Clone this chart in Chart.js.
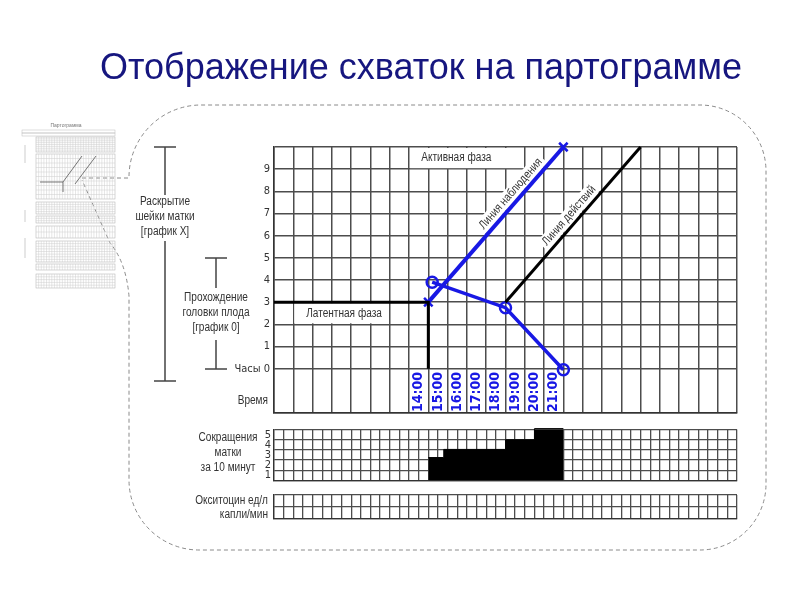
<!DOCTYPE html>
<html>
<head>
<meta charset="utf-8">
<script src="https://cdn.jsdelivr.net/npm/chart.js@4.4.1/dist/chart.umd.min.js"></script>
<style>
    body { margin: 0; background: #fff; }
    #wrap { position: relative; width: 800px; height: 600px; }
    #wrap canvas { position: absolute; }
</style>
</head>
<body>
<div id="wrap">
    <canvas id="mainChart" width="800" height="600" style="left:0;top:0"></canvas>
    <canvas id="contrChart" width="510" height="70" style="left:240px;top:420px"></canvas>
    <canvas id="oxyChart" width="490" height="40" style="left:260px;top:488px"></canvas>
</div>
<script>
    // Data: x = hours from start of the chart, y = cm of dilatation / descent
    const latentX = [0, 8, 8];
    const latentY = [3, 3, 0];
    const actionX = [12, 19];
    const actionY = [3, 10];
    const dilatationX = [8, 15];
    const dilatationY = [3, 10];
    const descentX = [8.2, 12, 15];
    const descentY = [3.9, 2.75, -0.05];
    const timeLabels = ['14:00', '15:00', '16:00', '17:00', '18:00', '19:00', '20:00', '21:00'];
    const timeFirstColumn = 7;
    const contrX = [8, 8.8, 12, 13.5, 15];
    const contrY = [2.25, 3.05, 4, 5.1, 5.1];
    const contrTicks = [0, 1, 2, 3, 4, 5];

    const BLUE = 'rgb(24,24,228)';
    const GRID = '#4d4d4d';
    const TEXT = '#333';
    const SANS = '"Liberation Sans", Arial, sans-serif';
    const NARROW = "'DejaVu Sans Condensed', sans-serif";
    const SQUEEZE = 0.84;

    const pts = (xs, ys) => xs.map((x, i) => ({ x: x, y: ys[i] }));

    // Arial-narrow look: Liberation Sans squeezed horizontally
    function narrowText(ctx, text, x, y, align) {
        ctx.save();
        ctx.translate(x, y);
        ctx.scale(SQUEEZE, 1);
        ctx.font = '12px ' + SANS;
        ctx.fillStyle = TEXT;
        ctx.textAlign = align || 'center';
        ctx.textBaseline = 'middle';
        ctx.fillText(text, 0, 0);
        ctx.restore();
    }

    function drawThumb(ctx) {
        ctx.save();
        ctx.fillStyle = '#777';
        ctx.font = '5px ' + SANS;
        ctx.textAlign = 'center';
        ctx.fillText('Партограмма', 66, 127);
        ctx.strokeStyle = '#bbb';
        ctx.lineWidth = 0.5;
        ctx.strokeRect(22, 130, 93, 3);
        ctx.strokeRect(22, 133, 93, 3);
        const blocks = [[137, 152, 8], [154, 199, 10], [202, 214, 5], [216, 223, 3], [226, 238, 2], [241, 262, 8], [264, 270, 2], [274, 288, 5]];
        blocks.forEach(b => {
            ctx.strokeStyle = '#aaa';
            ctx.strokeRect(36, b[0], 79, b[1] - b[0]);
            ctx.strokeStyle = '#ccc';
            for (let i = 1; i < 30; i++) {
                ctx.beginPath(); ctx.moveTo(36 + i * 79 / 30, b[0]); ctx.lineTo(36 + i * 79 / 30, b[1]); ctx.stroke();
            }
            for (let j = 1; j < b[2]; j++) {
                const y = b[0] + j * (b[1] - b[0]) / b[2];
                ctx.beginPath(); ctx.moveTo(36, y); ctx.lineTo(115, y); ctx.stroke();
            }
        });
        ctx.strokeStyle = '#555';
        ctx.lineWidth = 0.8;
        ctx.beginPath(); ctx.moveTo(40, 182); ctx.lineTo(63, 182); ctx.lineTo(63, 192); ctx.stroke();
        ctx.beginPath(); ctx.moveTo(63, 182); ctx.lineTo(82, 156); ctx.stroke();
        ctx.beginPath(); ctx.moveTo(75, 184); ctx.lineTo(96, 156); ctx.stroke();
        ctx.strokeStyle = '#999';
        ctx.lineWidth = 0.5;
        [[145, 163], [210, 222], [238, 258]].forEach(r => {
            ctx.beginPath(); ctx.moveTo(25, r[0]); ctx.lineTo(25, r[1]); ctx.stroke();
        });
        ctx.restore();
    }

    function drawOutline(ctx) {
        ctx.save();
        ctx.strokeStyle = '#8a8a8a';
        ctx.lineWidth = 1;
        ctx.setLineDash([4, 3]);
        ctx.beginPath();
        ctx.moveTo(82, 178);
        ctx.lineTo(129, 178);
        ctx.arcTo(129, 105, 200, 105, 72);
        ctx.lineTo(700, 105);
        ctx.arcTo(766, 105, 766, 170, 66);
        ctx.lineTo(766, 484);
        ctx.arcTo(766, 550, 700, 550, 66);
        ctx.lineTo(200, 550);
        ctx.arcTo(129, 550, 129, 480, 70);
        ctx.lineTo(129, 296);
        ctx.quadraticCurveTo(126, 262, 110, 243);
        ctx.lineTo(82, 180);
        ctx.stroke();
        ctx.restore();
    }

    function bracket(ctx, x, y0, y1, gap0, gap1, lines, textY) {
        ctx.save();
        ctx.strokeStyle = '#444';
        ctx.lineWidth = 1.5;
        ctx.beginPath();
        ctx.moveTo(x - 11, y0); ctx.lineTo(x + 11, y0);
        ctx.moveTo(x, y0); ctx.lineTo(x, gap0);
        ctx.moveTo(x, gap1); ctx.lineTo(x, y1);
        ctx.moveTo(x - 11, y1); ctx.lineTo(x + 11, y1);
        ctx.stroke();
        ctx.restore();
        lines.forEach((t, i) => narrowText(ctx, t, x, textY + i * 15));
    }

    function labelBox(ctx, text, px, py, angle, offset) {
        ctx.save();
        ctx.translate(px, py);
        ctx.rotate(angle);
        ctx.translate(0, -offset);
        ctx.font = '12px ' + SANS;
        const w = ctx.measureText(text).width * SQUEEZE + 6;
        ctx.fillStyle = '#fff';
        ctx.fillRect(-w / 2, -7, w, 14);
        narrowText(ctx, text, 0, 0);
        ctx.restore();
    }

    const decorPlugin = {
        id: 'decor',
        beforeDraw(chart) {
            const ctx = chart.ctx;
            drawOutline(ctx);
            drawThumb(ctx);
            ctx.save();
            ctx.fillStyle = '#16167f';
            ctx.font = '36px ' + SANS;
            ctx.textAlign = 'center';
            ctx.fillText('Отображение схваток на партограмме', 421, 79);
            ctx.restore();
            bracket(ctx, 165, 147, 381, 195, 241, ['Раскрытие', 'шейки матки', '[график X]'], 202);
            bracket(ctx, 216, 258, 369, 288, 340, ['Прохождение', 'головки плода', '[график 0]'], 298);

            ['Сокращения', 'матки', 'за 10 минут'].forEach((t, i) => narrowText(ctx, t, 228, 438 + i * 15));
            narrowText(ctx, 'Окситоцин ед/л', 268, 501, 'right');
            narrowText(ctx, 'капли/мин', 268, 515, 'right');
        },
        beforeDatasetsDraw(chart) {
            const ctx = chart.ctx;
            const x = chart.scales.x, y = chart.scales.y;
            ctx.save();
            ctx.fillStyle = '#fff';
            ctx.fillRect(x.getPixelForValue(7) + 1, y.getPixelForValue(10) + 1,
                x.getPixelForValue(13) - x.getPixelForValue(7) - 2, y.getPixelForValue(9) - y.getPixelForValue(10) - 2);
            ctx.fillRect(x.getPixelForValue(1) + 1, y.getPixelForValue(3) + 1,
                x.getPixelForValue(6) - x.getPixelForValue(1) - 2, y.getPixelForValue(2) - y.getPixelForValue(3) - 2);
            ctx.restore();
            narrowText(ctx, 'Активная фаза', x.getPixelForValue(9.45), y.getPixelForValue(9.5));
            narrowText(ctx, 'Латентная фаза', x.getPixelForValue(3.63), y.getPixelForValue(2.5));
            narrowText(ctx, 'Время', x.left - 6, y.getPixelForValue(-1.45), 'right');

            const along = (text, xs, ys, t) => {
                const x0 = x.getPixelForValue(xs[0]), y0 = y.getPixelForValue(ys[0]);
                const x1 = x.getPixelForValue(xs[1]), y1 = y.getPixelForValue(ys[1]);
                labelBox(ctx, text, x0 + (x1 - x0) * t, y0 + (y1 - y0) * t, Math.atan2(y1 - y0, x1 - x0), 9);
            };
            along('Линия наблюдения', dilatationX, dilatationY, 0.66);
            along('Линия действий', actionX, actionY, 0.52);
        },
        afterDraw(chart) {
            const ctx = chart.ctx;
            const x = chart.scales.x, y = chart.scales.y;
            ctx.save();
            ctx.fillStyle = BLUE;
            ctx.font = 'bold 14px ' + NARROW;
            ctx.textAlign = 'center';
            ctx.textBaseline = 'middle';
            timeLabels.forEach((t, i) => {
                ctx.save();
                ctx.translate(x.getPixelForValue(timeFirstColumn + i + 0.5), y.getPixelForValue(-1.05));
                ctx.rotate(-Math.PI / 2);
                ctx.fillText(t, 0, 0);
                ctx.restore();
            });
            ctx.restore();
        }
    };

    // Main partogram
    new Chart(document.getElementById('mainChart'), {
        type: 'scatter',
        data: {
            datasets: [
                { data: pts(latentX, latentY), showLine: true, borderColor: '#000', borderWidth: 3, pointRadius: 0 },
                { data: pts(actionX, actionY), showLine: true, borderColor: '#000', borderWidth: 3, pointRadius: 0 },
                {
                    data: pts(dilatationX, dilatationY), showLine: true, borderColor: BLUE, borderWidth: 4,
                    pointStyle: 'crossRot', pointRadius: 6, pointBorderWidth: 2.5, pointBorderColor: BLUE
                },
                {
                    data: pts(descentX, descentY), showLine: true, borderColor: BLUE, borderWidth: 3.5,
                    pointStyle: 'circle', pointRadius: 5.5, pointBorderWidth: 2.5, pointBorderColor: BLUE,
                    pointBackgroundColor: 'rgba(255,255,255,0)'
                }
            ]
        },
        options: {
            responsive: false,
            animation: false,
            clip: false,
            layout: { padding: { left: 234, right: 63, top: 147, bottom: 187 } },
            plugins: { legend: { display: false }, tooltip: { enabled: false } },
            scales: {
                x: {
                    type: 'linear', min: 0, max: 24,
                    ticks: { display: false, stepSize: 1, maxTicksLimit: 30 },
                    grid: { color: GRID, lineWidth: 1.5, drawTicks: false },
                    border: { color: '#333', width: 1.5 },
                    afterFit(s) { s.height = 0; }
                },
                y: {
                    type: 'linear', min: -2, max: 10,
                    ticks: {
                        stepSize: 1, maxTicksLimit: 20, autoSkip: false, padding: 4, color: TEXT,
                        font: { family: NARROW, size: 11 },
                        callback: v => v === 0 ? 'Часы 0' : (v > 0 && v < 10 ? String(v) : '')
                    },
                    grid: {
                        color: c => (c.tick && c.tick.value === -1) ? 'rgba(0,0,0,0)' : GRID,
                        lineWidth: 1.5, drawTicks: false
                    },
                    border: { color: '#333', width: 1.5 },
                    afterFit(s) { s.width = 40; }
                }
            }
        },
        plugins: [decorPlugin]
    });

    // Uterine contractions per 10 minutes
    new Chart(document.getElementById('contrChart'), {
        type: 'scatter',
        data: {
            datasets: [{
                data: pts(contrX, contrY), showLine: true, stepped: 'before', fill: 'origin',
                backgroundColor: '#000', borderColor: '#000', borderWidth: 1, pointRadius: 0, clip: false
            }]
        },
        options: {
            responsive: false,
            animation: false,
            layout: { padding: { left: 14, right: 13, top: 8, bottom: 9 } },
            plugins: { legend: { display: false }, tooltip: { enabled: false } },
            scales: {
                x: {
                    type: 'linear', min: 0, max: 24,
                    ticks: { display: false, stepSize: 0.5, maxTicksLimit: 60 },
                    grid: { color: GRID, lineWidth: 1.3, drawTicks: false },
                    border: { color: '#333', width: 1.3 },
                    afterFit(s) { s.height = 0; }
                },
                y: {
                    type: 'linear', min: 0, max: 5,
                    afterBuildTicks(s) { s.ticks = contrTicks.map(v => ({ value: v })); },
                    ticks: {
                        autoSkip: false, padding: 3, color: TEXT, labelOffset: 5.4,
                        font: { family: NARROW, size: 11 },
                        callback: v => v > 0 ? String(v) : ''
                    },
                    grid: { color: GRID, lineWidth: 1.3, drawTicks: false },
                    border: { color: '#333', width: 1.3 },
                    afterFit(s) { s.width = 20; }
                }
            }
        }
    });

    // Oxytocin
    new Chart(document.getElementById('oxyChart'), {
        type: 'scatter',
        data: { datasets: [{ data: [] }] },
        options: {
            responsive: false,
            animation: false,
            layout: { padding: { left: 14, right: 13, top: 7, bottom: 9 } },
            plugins: { legend: { display: false }, tooltip: { enabled: false } },
            scales: {
                x: {
                    type: 'linear', min: 0, max: 24,
                    ticks: { display: false, stepSize: 0.5, maxTicksLimit: 60 },
                    grid: { color: GRID, lineWidth: 1.3, drawTicks: false },
                    border: { color: '#333', width: 1.3 },
                    afterFit(s) { s.height = 0; }
                },
                y: {
                    type: 'linear', min: 0, max: 2,
                    ticks: { display: false, stepSize: 1 },
                    grid: { color: GRID, lineWidth: 1.3, drawTicks: false },
                    border: { color: '#333', width: 1.3 },
                    afterFit(s) { s.width = 0; }
                }
            }
        }
    });
</script>
</body>
</html>
